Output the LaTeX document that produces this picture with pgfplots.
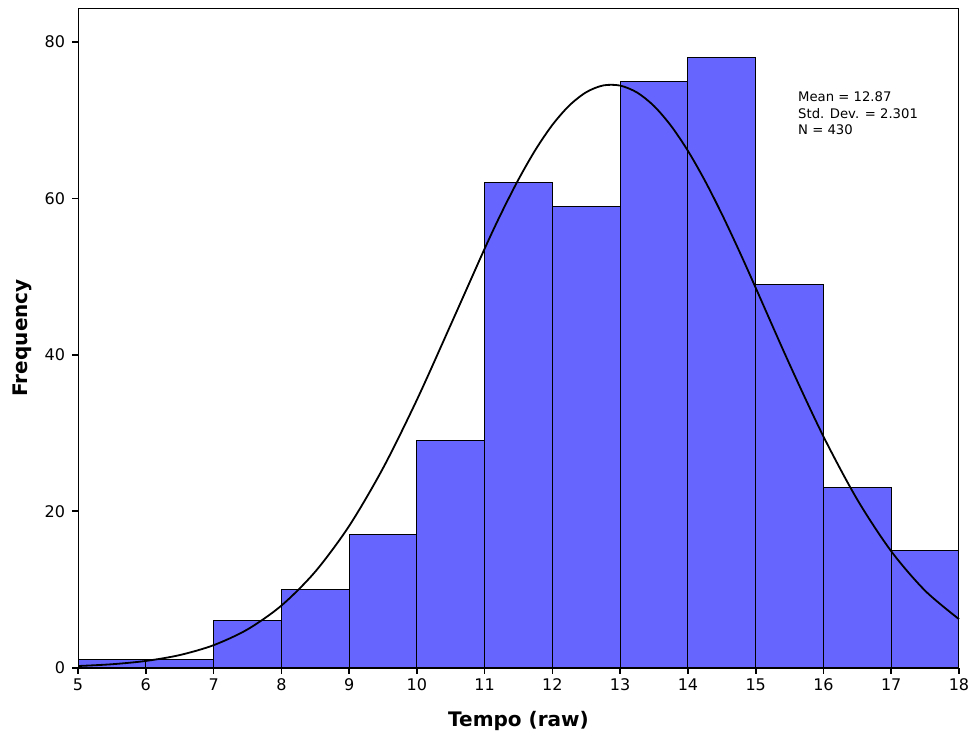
\documentclass[border=0pt]{standalone}
\usepackage{fontspec}
\setmainfont{DejaVu Sans}
\usepackage{pgfplots}
\pgfplotsset{compat=1.18}

\definecolor{barblue}{RGB}{102,102,255}

\begin{document}
\begin{tikzpicture}[x=1pt,y=1pt]
\begin{axis}[
    name=ax,
    scale only axis,
    width=440pt, height=329.5pt,
    xmin=5, xmax=18, ymin=0, ymax=84.35,
    xtick={5,6,...,18},
    ytick={0,20,40,60,80},
    tick align=outside,
    xtick pos=left, ytick pos=left,
    major tick length=3pt,
    axis line style={line width=0.5pt},
    every tick/.style={black, line width=0.8pt},
    tick label style={font=\fontsize{8}{9}\selectfont},
    /pgf/number format/assume math mode=true,
    xticklabel style={yshift=1pt},
    xlabel={\textbf{Tempo (raw)}},
    ylabel={\textbf{Frequency}},
    label style={font=\fontsize{10}{12}\selectfont},
    xlabel style={at={(axis description cs:0.5,-0.0804)}, anchor=center},
    ylabel style={at={(axis description cs:-0.0636,0.5)}, anchor=center},
    clip=false,
]
    % histogram bins (width 1)
    \addplot[ybar interval, fill=barblue, draw=black, line width=0.5pt] coordinates {
        (5,1) (6,1) (7,6) (8,10) (9,17) (10,29) (11,62) (12,59)
        (13,75) (14,78) (15,49) (16,23) (17,15) (18,15)
    };

    % normal curve, mean 12.87, sd 2.301, N 430
    \addplot[smooth, black, line width=0.9pt] coordinates {
        (5,0.215) (5.5,0.441) (6,0.865) (6.5,1.615) (7,2.879) (7.5,4.895)
        (8,7.938) (8.5,12.28) (9,18.12) (9.5,25.51) (10,34.25) (10.5,43.86)
        (11,53.58) (11.25,58.19) (11.5,62.44) (11.75,66.22) (12,69.41)
        (12.25,71.89) (12.5,73.59) (12.75,74.45) (13,74.43) (13.25,73.54)
        (13.5,71.81) (13.75,69.29) (14,66.08) (14.25,62.28) (14.5,58.01)
        (14.75,53.40) (15,48.57)
        (15.5,38.79) (16,29.56) (16.5,21.48) (17,14.89) (17.5,9.846) (18,6.21)
    };

    \draw[line width=1pt] (axis cs:5,0) -- (axis cs:18,0);

    \node[anchor=north west, align=left, inner sep=0pt,
          font=\fontsize{6.6}{8}\selectfont]
        at (axis description cs:0.817,0.873)
        {Mean = 12.87\\Std. Dev. = 2.301\\N = 430};
\end{axis}
\pgfresetboundingbox
\useasboundingbox ([shift={(-39pt,-37.5pt)}]ax.south west) rectangle ([shift={(10pt,4pt)}]ax.north east);
\end{tikzpicture}
\end{document}
